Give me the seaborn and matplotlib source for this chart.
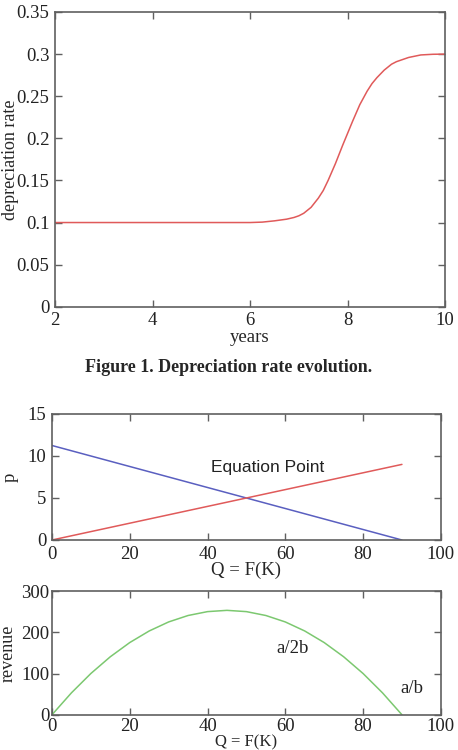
import matplotlib
matplotlib.use("Agg")
import matplotlib.pyplot as plt
import seaborn as sns
import pandas as pd

# depreciation rate curve
years = [2, 3, 4, 5, 5.5, 6, 6.25, 6.5, 6.75, 6.9, 7.0, 7.1, 7.25, 7.4,
         7.5, 7.6, 7.75, 7.9, 8.0, 8.1, 8.25, 8.4, 8.5, 8.6, 8.75, 8.9,
         9.0, 9.25, 9.5, 9.75, 10]
dep_rate = [0.1, 0.1, 0.1, 0.1, 0.1, 0.1, 0.1005, 0.102, 0.104, 0.106,
            0.108, 0.111, 0.118, 0.129, 0.138, 0.150, 0.170, 0.192, 0.206,
            0.220, 0.240, 0.256, 0.265, 0.272, 0.281, 0.288, 0.291, 0.296,
            0.299, 0.2998, 0.3]

# supply / demand lines
q = [0, 10, 20, 30, 40, 50, 60, 70, 80, 90]
p_demand = [11.25, 10.0, 8.75, 7.5, 6.25, 5.0, 3.75, 2.5, 1.25, 0.0]
p_supply = [0.0, 1.0, 2.0, 3.0, 4.0, 5.0, 6.0, 7.0, 8.0, 9.0]

# revenue curve
q_rev = [0, 5, 10, 15, 20, 25, 30, 35, 40, 45, 50, 55, 60, 65, 70, 75, 80, 85, 90]
revenue = [0, 53.1, 100, 140.6, 175, 203.1, 225, 240.6, 250, 253.1, 250,
           240.6, 225, 203.1, 175, 140.6, 100, 53.1, 0]

sns.set_theme(style="ticks")
plt.rcParams['font.family'] = ['Liberation Serif', 'DejaVu Serif']
plt.rcParams['axes.edgecolor'] = '#606060'
plt.rcParams['xtick.color'] = '#606060'
plt.rcParams['ytick.color'] = '#606060'
plt.rcParams['xtick.labelcolor'] = '#222222'
plt.rcParams['ytick.labelcolor'] = '#222222'

RED = '#e05a5a'
BLUE = '#5a5fc0'
GREEN = '#7cc870'
FS = 13.5

fig = plt.figure(figsize=(4.58, 7.5), dpi=100)
ax1 = fig.add_axes([0.120, 0.591, 0.852, 0.393])
ax2 = fig.add_axes([0.1135, 0.280, 0.849, 0.168])
ax3 = fig.add_axes([0.1135, 0.047, 0.849, 0.165])

def style(ax, pad=4):
    ax.tick_params(direction='in', top=True, right=True, length=5,
                   width=1, labelsize=FS, pad=pad)
    for s in ax.spines.values():
        s.set_linewidth(1.2)
        s.set_color('#606060')

df1 = pd.DataFrame({"years": years, "rate": dep_rate})
sns.lineplot(data=df1, x="years", y="rate", ax=ax1, color=RED, linewidth=1.1)
ax1.set_xlim(2, 10)
ax1.set_ylim(0, 0.35)
ax1.set_xticks([2, 4, 6, 8, 10])
ax1.set_yticks([0, 0.05, 0.1, 0.15, 0.2, 0.25, 0.3, 0.35])
ax1.set_yticklabels(['0', '0.05', '0.1', '0.15', '0.2', '0.25', '0.3', '0.35'])
ax1.set_xlabel("years", fontsize=FS)
ax1.set_ylabel("depreciation rate", fontsize=13)
ax1.xaxis.set_label_coords(0.5, -0.075)
ax1.yaxis.set_label_coords(-0.092, 0.5)
style(ax1)

fig.text(0.5, 1 - 368 / 750, "Figure 1. Depreciation rate evolution.",
         ha='center', va='center', fontsize=13, fontweight='bold')

df2 = pd.DataFrame({"q": q, "demand": p_demand, "supply": p_supply})
sns.lineplot(data=df2, x="q", y="demand", ax=ax2, color=BLUE, linewidth=1.1)
sns.lineplot(data=df2, x="q", y="supply", ax=ax2, color=RED, linewidth=1.1)
ax2.set_xlim(0, 100)
ax2.set_ylim(0, 15)
ax2.set_xticks([0, 20, 40, 60, 80, 100])
ax2.set_yticks([0, 5, 10, 15])
ax2.set_xlabel("Q = F(K)", fontsize=FS)
ax2.set_ylabel("p", fontsize=FS)
ax2.xaxis.set_label_coords(0.5, -0.175)
ax2.yaxis.set_label_coords(-0.085, 0.5)
ax2.text(55.5, 8.6, "Equation Point", ha='center', va='center',
         fontsize=12.5, family=['Liberation Sans', 'DejaVu Sans'], color='#222222')
style(ax2)

df3 = pd.DataFrame({"q": q_rev, "revenue": revenue})
sns.lineplot(data=df3, x="q", y="revenue", ax=ax3, color=GREEN, linewidth=1.1)
ax3.set_xlim(0, 100)
ax3.set_ylim(0, 300)
ax3.set_xticks([0, 20, 40, 60, 80, 100])
ax3.set_yticks([0, 100, 200, 300])
ax3.set_xlabel("Q = F(K)", fontsize=12)
ax3.set_ylabel("revenue", fontsize=13)
ax3.xaxis.set_label_coords(0.5, -0.16)
ax3.yaxis.set_label_coords(-0.09, 0.5)
ax3.text(61.8, 161, "a/2b", ha='center', va='center', fontsize=FS, color='#222222')
ax3.text(92.6, 64, "a/b", ha='center', va='center', fontsize=FS, color='#222222')
style(ax3, pad=2)

fig.savefig("out.png", dpi=100)
